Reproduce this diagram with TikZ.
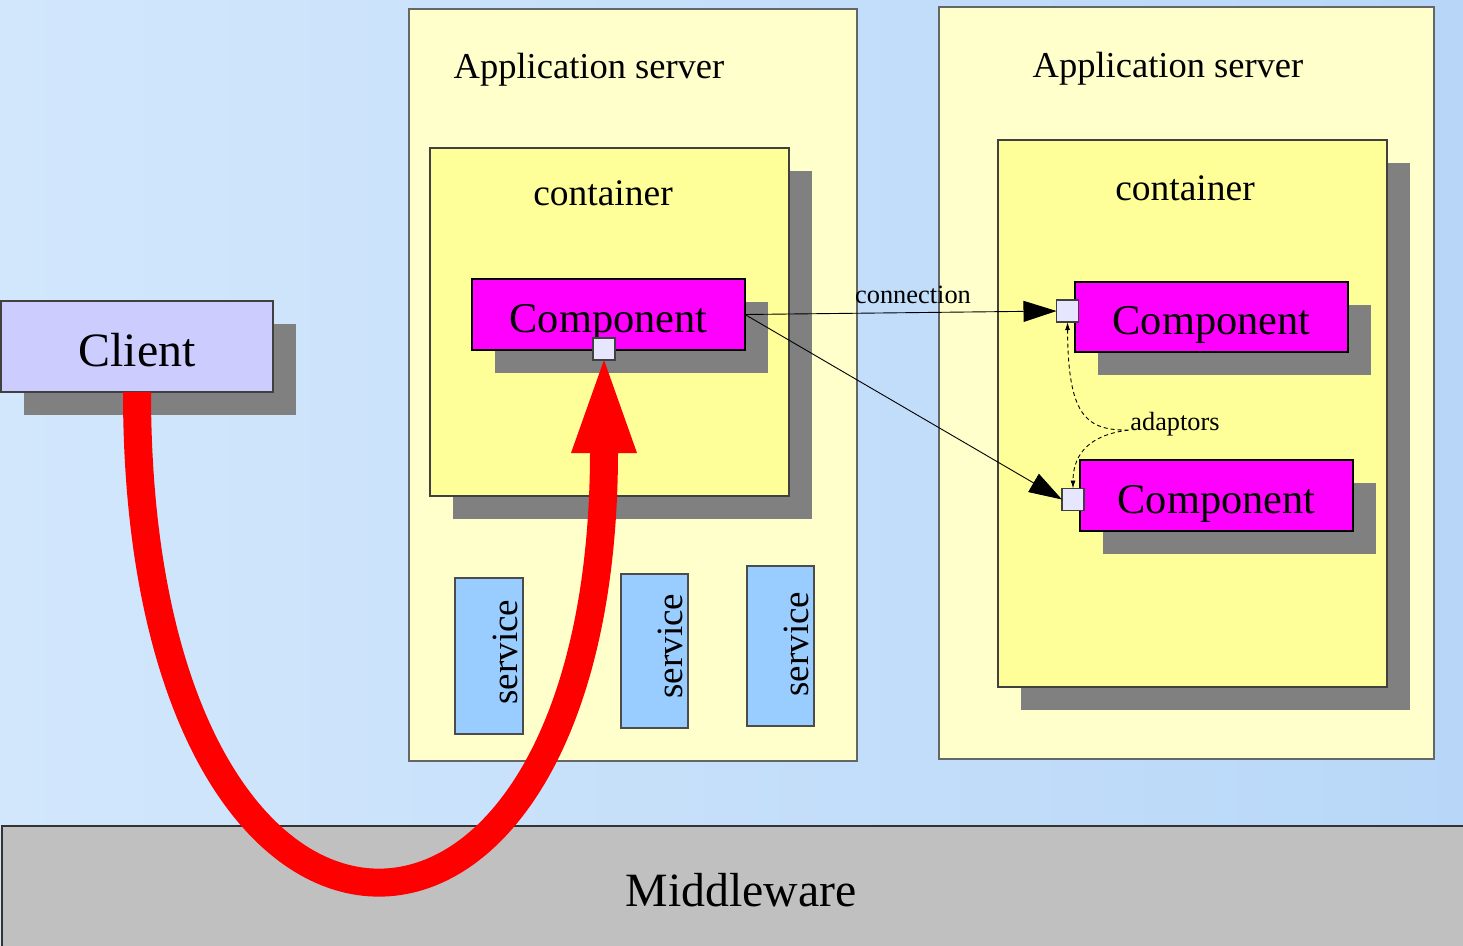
\documentclass[tikz,border=0pt]{standalone}
\usepackage{fontspec}
\setmainfont{Liberation Serif}
\usetikzlibrary{arrows.meta,shadows,calc}
\definecolor{bgl}{HTML}{D2E7FC}
\definecolor{bgr}{HTML}{B8D7F8}
\definecolor{appfill}{HTML}{FFFFCC}
\definecolor{contfill}{HTML}{FFFF99}
\definecolor{compfill}{HTML}{FF00FF}
\definecolor{shadowgray}{HTML}{808080}
\definecolor{clientfill}{HTML}{CCCCFF}
\definecolor{svcfill}{HTML}{99CCFF}
\definecolor{portfill}{HTML}{E6E6FF}
\definecolor{mwfill}{HTML}{C0C0C0}
\definecolor{redarr}{HTML}{FF0000}
\tikzset{
  bx/.style={rectangle, draw=black!75, line width=1.1pt, inner sep=0pt, outer sep=0pt},
  sh/.style={drop shadow={shadow xshift=23pt, shadow yshift=-23pt, fill=shadowgray, opacity=1}},
  appsrv/.style={bx, fill=appfill, draw=black!60},
  cont/.style={bx, fill=contfill, sh},
  comp/.style={bx, fill=compfill, draw=black, sh, minimum width=273pt, minimum height=71pt, text height=35pt, text depth=0pt, font=\fontsize{42.4}{46}\selectfont},
  port/.style={bx, fill=portfill, draw=black!75, minimum size=22pt},
  svc/.style={bx, fill=svcfill, draw=black!70},
  lbl/.style={inner sep=0pt, outer sep=0pt},
  conn/.style={draw=black, line width=0.9pt, -{Triangle[length=33pt,width=21pt]}},
  adapt/.style={draw=black, line width=0.9pt, dash pattern=on 4pt off 3pt, {Latex[length=8pt,width=5pt]}-{Latex[length=8pt,width=5pt]}},
}
\begin{document}
\begin{tikzpicture}[x=1pt,y=-1pt]
\useasboundingbox (0,0) rectangle (1463,945);
\shade[left color=bgl, right color=bgr] (0,0) rectangle (1463,945);

% middleware
\node[bx, fill=mwfill, draw=black!80, minimum width=1463pt, minimum height=121pt] (mw) at (733.5,886.5) {};
\node[lbl, font=\fontsize{47.8}{52}\selectfont] (mwt) at (741,890.5) {Middleware};

% application servers
\node[appsrv, minimum width=448pt, minimum height=752pt] (as1) at (633,385) {};
\node[appsrv, minimum width=495pt, minimum height=752pt] (as2) at (1186.5,383) {};
\node[lbl, font=\fontsize{36.5}{40}\selectfont] (as1t) at (589,70) {Application server};
\node[lbl, font=\fontsize{36.5}{40}\selectfont] (as2t) at (1168,69) {Application server};

% containers
\node[cont, minimum width=359pt, minimum height=348pt] (c1) at (609.5,322) {};
\node[cont, minimum width=389pt, minimum height=547pt] (c2) at (1192.5,413.5) {};
\node[lbl, font=\fontsize{37.5}{40}\selectfont] (c1t) at (603,193) {container};
\node[lbl, font=\fontsize{37.5}{40}\selectfont] (c2t) at (1185,188) {container};

% components
\node[comp] (k1) at (608.5,314.5) {Component};
\node[comp, minimum height=70pt] (k2) at (1211.5,317) {Component};
\node[comp] (k3) at (1216.5,495.5) {Component};

% services
\node[svc, minimum width=68pt, minimum height=156pt] (s1) at (489,656) {};
\node[svc, minimum width=67pt, minimum height=154pt] (s2) at (654.5,651) {};
\node[svc, minimum width=67pt, minimum height=160pt] (s3) at (780.5,646) {};
\node[lbl, rotate=90, font=\fontsize{37}{40}\selectfont] (s1t) at (505,652) {service};
\node[lbl, rotate=90, font=\fontsize{37}{40}\selectfont] (s2t) at (670,646) {service};
\node[lbl, rotate=90, font=\fontsize{37}{40}\selectfont] (s3t) at (796,644) {service};

% client
\node[bx, fill=clientfill, draw=black!75, sh, minimum width=272pt, minimum height=91pt, text height=39pt, text depth=0pt, font=\fontsize{47.9}{52}\selectfont] (cl) at (137,346.5) {Client};

% apex of the red arrow (bottom of the port under the left component)
\coordinate (p0s) at (604,360);

% red arrow
\draw[redarr, line width=28pt] (cl.south) .. controls (137,1036) and (604,1036) .. ($(p0s)+(0,91)$);
\fill[redarr] ($(p0s)+(-33,93)$) -- (p0s) -- ($(p0s)+(33,93)$) -- cycle;

\node[port] (p0) at (604,349) {};
\node[port] (p1) at (1067.5,311) {};
\node[port] (p2) at (1073,499.5) {};

% connections
\draw[conn] (k1.east) -- (p1.west);
\draw[conn] (k1.east) -- (p2.west);
\node[lbl, font=\fontsize{26.4}{29}\selectfont] (connt) at (913,295) {connection};

% adaptors
\draw[adapt] (p1.south) .. controls (1068,415) and (1085,431) .. (1130,430) .. controls (1092,434) and (1073,452) .. (p2.north);
\node[lbl, font=\fontsize{26.3}{29}\selectfont] (adt) at (1175,424) {adaptors};
\end{tikzpicture}
\end{document}
